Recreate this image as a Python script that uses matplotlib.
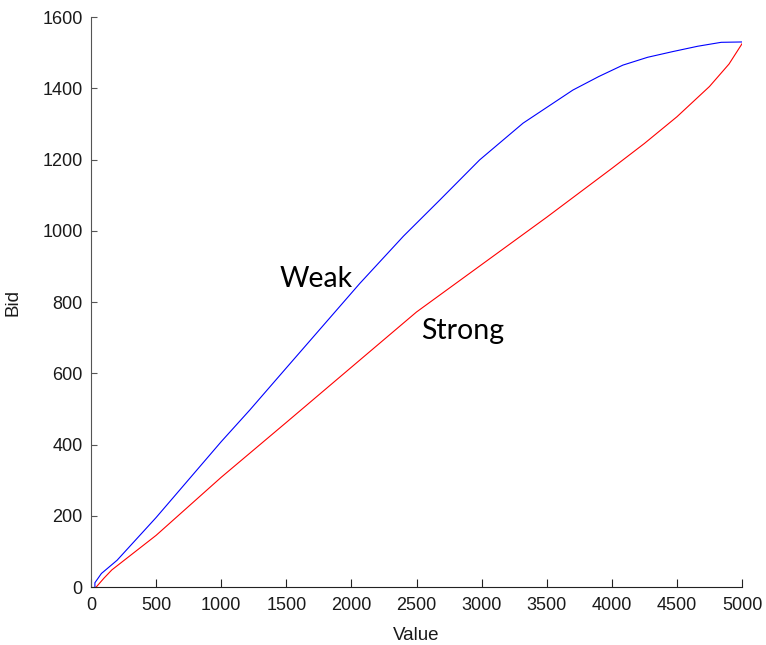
import matplotlib
matplotlib.use("Agg")
import matplotlib.pyplot as plt

# --- values ---
weak_value = [30, 30, 80, 200, 500, 1000, 1220, 1500, 2064, 2400, 2678,
              2985, 3318, 3701, 3900, 4085, 4275, 4468, 4660, 4840, 5000]
weak_bid = [0, 12, 38, 75, 195, 408, 497, 615, 852, 985, 1086,
            1199, 1302, 1395, 1433, 1465, 1487, 1503, 1518, 1529, 1530]

strong_value = [40, 100, 160, 500, 1000, 1500, 2000, 2500, 3000, 3500,
                4000, 4250, 4500, 4750, 4900, 5000]
strong_bid = [0, 25, 48, 145, 308, 462, 617, 772, 905, 1038,
              1175, 1245, 1320, 1405, 1468, 1525]

x_ticks = [0, 500, 1000, 1500, 2000, 2500, 3000, 3500, 4000, 4500, 5000]
y_ticks = [0, 200, 400, 600, 800, 1000, 1200, 1400, 1600]

plt.rcParams['font.family'] = ['Liberation Sans', 'DejaVu Sans']

fig = plt.figure(figsize=(7.66, 6.45), dpi=100)
ax = fig.add_axes([0.1188, 0.0899, 0.8499, 0.8837])

ax.plot(weak_value, weak_bid, color='#0000ff', linewidth=0.8)
ax.plot(strong_value, strong_bid, color='#ff0000', linewidth=0.8)

ax.set_xlim(0, 5000)
ax.set_ylim(0, 1600)
ax.set_xticks(x_ticks)
ax.set_yticks(y_ticks)

ax.spines['top'].set_visible(False)
ax.spines['right'].set_visible(False)
ax.spines['left'].set_color('#555555')
ax.spines['bottom'].set_color('#222222')

ax.tick_params(axis='x', direction='in', length=5.8, width=0.8,
               labelsize=13, pad=7, colors='#222222')
ax.tick_params(axis='y', direction='in', length=4.3, width=0.8,
               labelsize=13, pad=6, colors='#555555')
for lbl in ax.get_xticklabels() + ax.get_yticklabels():
    lbl.set_color('#1a1a1a')

ax.set_xlabel('Value', fontsize=13.5, labelpad=9.5, color='#1a1a1a')
ax.set_ylabel('Bid', fontsize=13.5, labelpad=15, color='#1a1a1a')

# curve labels
ax.text(1450, 842, 'Weak', fontsize=20.5, family=['Lato', 'DejaVu Sans'],
        ha='left', va='baseline', color='black')
ax.text(2537, 695, 'Strong', fontsize=20.5, family=['Lato', 'DejaVu Sans'],
        ha='left', va='baseline', color='black')

fig.savefig('out.png', dpi=100)
